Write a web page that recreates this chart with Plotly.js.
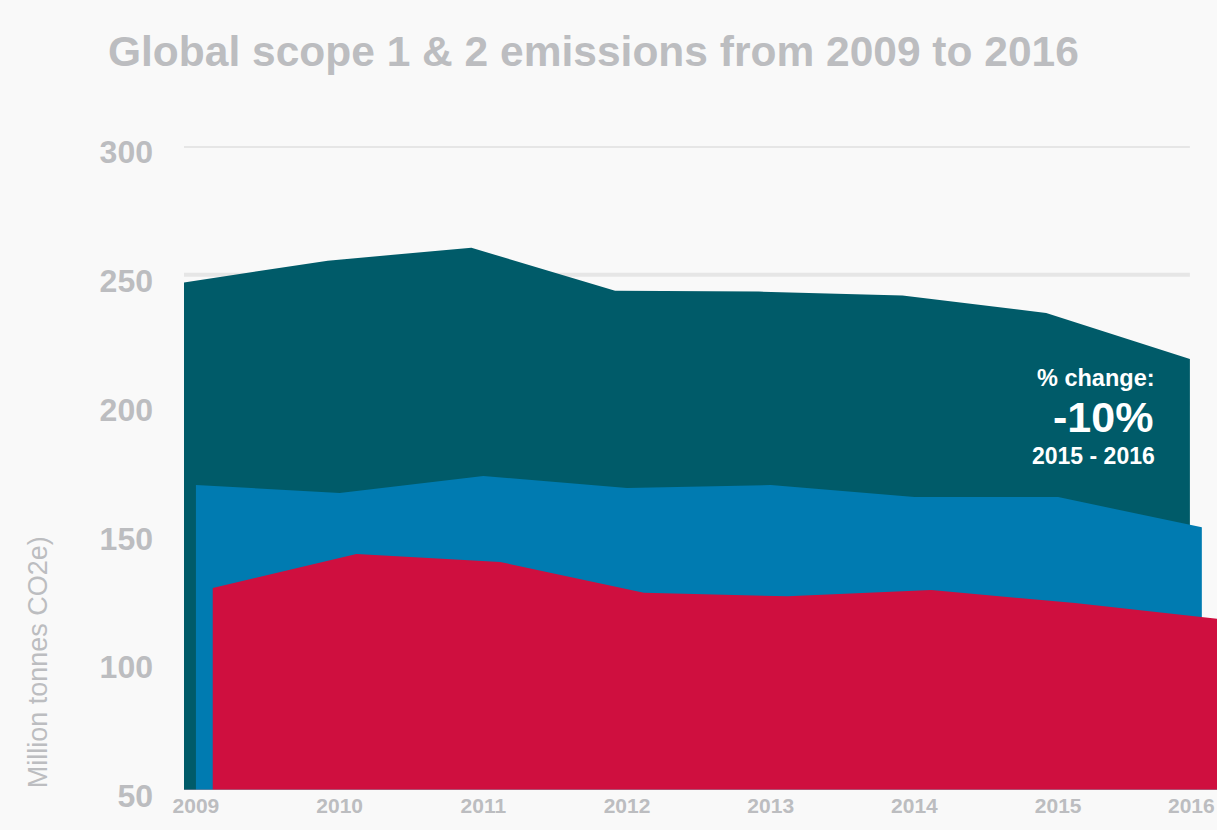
<!DOCTYPE html>
<html>
<head>
<meta charset="utf-8">
<script src="https://cdn.plot.ly/plotly-3.0.1.min.js"></script>
<style>
  html, body { margin: 0; padding: 0; background: #f9f9f9; overflow: hidden; }
  #chart { width: 1217px; height: 830px; }
</style>
</head>
<body>
<div id="chart"></div>
<script>
// Data
const years = [2009, 2010, 2011, 2012, 2013, 2014, 2015, 2016];
const yearLabels = ["2009", "2010", "2011", "2012", "2013", "2014", "2015", "2016"];
const totalEmissions = [247, 255.5, 260.5, 243.8, 243.5, 242, 235.2, 217.3];   // dark teal
const middleSeries   = [168.4, 165.3, 171.9, 167.2, 168.4, 163.7, 163.7, 152];  // blue
const frontSeries    = [128.4, 141.6, 138.5, 126.6, 125.2, 127.6, 122.6, 116.4]; // red
const yTicks = [50, 100, 150, 200, 250, 300];

// Visual depth offsets (in years) for the layered look
const offTeal = 0, offBlue = 0.083, offRed = 0.2;

const grey = "#bcbdc0";
const font = "Liberation Sans, Arial, Helvetica, sans-serif";

function shift(arr, d) { return arr.map(v => v + d); }

const traces = [
  { x: shift(years, offTeal), y: totalEmissions, type: "scatter", mode: "lines",
    fill: "tozeroy", fillcolor: "#005b69", line: { color: "#005b69", width: 0 }, hoverinfo: "skip" },
  { x: shift(years, offBlue), y: middleSeries, type: "scatter", mode: "lines",
    fill: "tozeroy", fillcolor: "#007bb1", line: { color: "#007bb1", width: 0 }, hoverinfo: "skip" },
  { x: shift(years, offRed), y: frontSeries, type: "scatter", mode: "lines",
    fill: "tozeroy", fillcolor: "#cf0f3f", line: { color: "#cf0f3f", width: 0 }, hoverinfo: "skip" }
];

const shapes = yTicks.filter(v => v > 50).map(v => ({
  type: "line", xref: "x", yref: "y", layer: "below",
  x0: years[0], x1: years[years.length - 1], y0: v, y1: v,
  line: { color: "#e6e6e6", width: 4 }
}));
shapes.push({
  type: "line", xref: "x", yref: "y", layer: "above",
  x0: years[0], x1: years[years.length - 1] + 0.3, y0: 50, y1: 50,
  line: { color: "rgba(150,140,160,0.7)", width: 1.5 }
});

const tickFont = { family: font, size: 21, color: grey, weight: "bold" };
const n = years.length;
const py = v => (790 - v) / 644;      // helper: pixel row -> paper y
const px = v => (v - 184) / 1033;     // helper: pixel column -> paper x

const layout = {
  width: 1217, height: 830,
  paper_bgcolor: "#f9f9f9", plot_bgcolor: "#f9f9f9",
  margin: { l: 184, r: 0, t: 146, b: 40 },
  showlegend: false,
  title: {
    text: "<b>Global scope 1 &amp; 2 emissions from 2009 to 2016</b>",
    font: { family: font, size: 42.5, color: grey },
    xref: "container", yref: "container",
    x: 108 / 1217, xanchor: "left", y: 1 - 51 / 830, yanchor: "middle"
  },
  xaxis: {
    range: [2009, 2009 + 1033 / 143.7],
    tickvals: shift(years.slice(0, n - 1), offBlue), ticktext: yearLabels.slice(0, n - 1),
    showgrid: false, zeroline: false, showline: false, ticks: "",
    tickfont: tickFont,
    ticklabelstandoff: 1, automargin: false, fixedrange: true
  },
  yaxis: {
    range: [50, 300],
    tickvals: yTicks, ticktext: yTicks.map(String),
    showgrid: false, zeroline: false, showline: false, ticks: "",
    tickfont: { family: font, size: 32, color: grey, weight: "bold" },
    ticklabelstandoff: 30, ticklabelshift: 6, automargin: false, fixedrange: true
  },
  shapes: shapes,
  annotations: [
    { text: "<b>" + yearLabels[n - 1] + "</b>", xref: "paper", yref: "paper", x: 1, y: 0,
      xanchor: "right", yanchor: "top", yshift: -2, showarrow: false, font: tickFont },
    { text: "Million tonnes CO2e)", xref: "paper", yref: "paper", x: -0.141, y: 0,
      xanchor: "center", yanchor: "bottom", textangle: -90, showarrow: false,
      font: { family: font, size: 27, color: grey } },
    { text: "<b>% change:</b>", xref: "paper", yref: "paper", x: px(1157), y: py(378),
      xanchor: "right", yanchor: "middle", showarrow: false,
      font: { family: font, size: 23.5, color: "#ffffff" } },
    { text: "<b>-10%</b>", xref: "paper", yref: "paper", x: px(1155), y: py(417),
      xanchor: "right", yanchor: "middle", showarrow: false,
      font: { family: font, size: 43, color: "#ffffff" } },
    { text: "<b>2015 - 2016</b>", xref: "paper", yref: "paper", x: px(1157), y: py(456),
      xanchor: "right", yanchor: "middle", showarrow: false,
      font: { family: font, size: 23, color: "#ffffff" } }
  ]
};

Plotly.newPlot("chart", traces, layout, { displayModeBar: false, staticPlot: true });
</script>
</body>
</html>
